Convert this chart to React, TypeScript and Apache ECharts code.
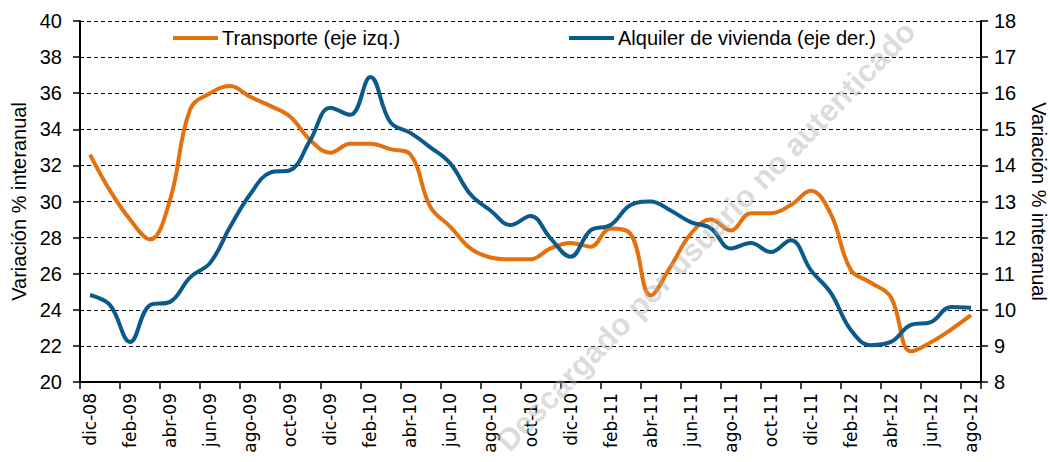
import React, { useEffect, useRef } from "react";
import * as echarts from "echarts";

const months: string[] = [
  "dic-08", "ene-09", "feb-09", "mar-09", "abr-09", "may-09", "jun-09", "jul-09", "ago-09", "sep-09", "oct-09", "nov-09",
  "dic-09", "ene-10", "feb-10", "mar-10", "abr-10", "may-10", "jun-10", "jul-10", "ago-10", "sep-10", "oct-10", "nov-10",
  "dic-10", "ene-11", "feb-11", "mar-11", "abr-11", "may-11", "jun-11", "jul-11", "ago-11", "sep-11", "oct-11", "nov-11",
  "dic-11", "ene-12", "feb-12", "mar-12", "abr-12", "may-12", "jun-12", "jul-12", "ago-12",
];

const transporte: number[] = [
  32.6, 30.6, 29.0, 27.9, 30.1, 35.1, 36.0, 36.4, 35.8, 35.3, 34.7, 33.4,
  32.7, 33.2, 33.2, 32.9, 32.6, 29.7, 28.6, 27.4, 26.9, 26.8, 26.8, 27.4,
  27.7, 27.5, 28.5, 28.2, 24.8, 26.4, 28.2, 29.0, 28.4, 29.35, 29.35, 29.8,
  30.6, 29.3, 26.2, 25.5, 24.7, 21.7, 22.2, 22.9, 23.7,
];

const alquiler: number[] = [
  10.41, 10.13, 9.11, 10.13, 10.22, 10.9, 11.3, 12.3, 13.2, 13.8, 13.87, 14.7,
  15.6, 15.4, 16.45, 15.2, 14.9, 14.5, 14.05, 13.2, 12.75, 12.35, 12.6, 11.98,
  11.47, 12.2, 12.35, 12.9, 13.0, 12.75, 12.43, 12.26, 11.7, 11.85, 11.6, 11.93,
  11.1, 10.47, 9.44, 9.02, 9.11, 9.58, 9.66, 10.08, 10.06,
];

const seriesNames: string[] = ["Transporte (eje izq.)", "Alquiler de vivienda (eje der.)"];
const axisTitle = "Variación % interanual";
const watermark = "Descargado por usuario no autenticado";

const FONT = "'Liberation Sans', Arial, sans-serif";
const ORANGE = "#E4700E";
const BLUE = "#0C5A8A";

export default function App() {
  const ref = useRef<HTMLDivElement>(null);
  useEffect(() => {
    if (!ref.current) return;
    const chart = echarts.init(ref.current, undefined, { renderer: "svg" });
    const legendBase = {
      top: 28,
      padding: 0,
      icon: "rect",
      itemWidth: 45,
      itemHeight: 4,
      itemGap: 4,
      textStyle: { fontSize: 20, color: "#000", fontFamily: FONT, padding: [0, 0, 0, -1] },
    };
    chart.setOption({
      animation: false,
      backgroundColor: "#ffffff",
      textStyle: { fontFamily: FONT },
      grid: { left: 80, right: 69, top: 21, bottom: 80, outerBoundsMode: "none", containLabel: false },
      legend: [
        { ...legendBase, data: [seriesNames[0]], left: 173 },
        { ...legendBase, data: [seriesNames[1]], left: 569 },
      ],
      xAxis: {
        type: "category",
        data: months,
        boundaryGap: true,
        axisLine: { lineStyle: { color: "#000", width: 2 } },
        axisTick: { show: true, interval: 1, length: 7, lineStyle: { color: "#000", width: 1.5 } },
        axisLabel: {
          interval: 1,
          rotate: 90,
          margin: 11,
          fontSize: 17,
          color: "#000",
          fontFamily: "'DejaVu Sans', sans-serif",
        },
        splitLine: { show: false },
      },
      yAxis: [
        {
          type: "value",
          min: 20,
          max: 40,
          interval: 2,
          position: "left",
          name: axisTitle,
          nameLocation: "middle",
          nameGap: 50,
          nameTextStyle: { fontSize: 20, color: "#000", fontFamily: FONT },
          axisLine: { show: true, lineStyle: { color: "#000", width: 2 } },
          axisTick: { show: true, length: 7, lineStyle: { color: "#000", width: 1.5 } },
          axisLabel: { fontSize: 20, color: "#000", margin: 18, fontFamily: FONT },
          splitLine: { show: true, lineStyle: { color: "#000", type: [4, 3], width: 1 } },
        },
        {
          type: "value",
          min: 8,
          max: 18,
          interval: 1,
          position: "right",
          name: axisTitle,
          nameLocation: "middle",
          nameGap: 48,
          nameRotate: -90,
          nameTextStyle: { fontSize: 20, color: "#000", fontFamily: FONT },
          axisLine: { show: true, lineStyle: { color: "#000", width: 2 } },
          axisTick: { show: true, length: 7, lineStyle: { color: "#000", width: 1.5 } },
          axisLabel: { fontSize: 20, color: "#000", margin: 13, fontFamily: FONT },
          splitLine: { show: false },
        },
      ],
      series: [
        {
          name: seriesNames[0],
          type: "line",
          data: transporte,
          yAxisIndex: 0,
          smooth: 0.4,
          symbol: "none",
          lineStyle: { color: ORANGE, width: 4 },
          itemStyle: { color: ORANGE },
          z: 3,
        },
        {
          name: seriesNames[1],
          type: "line",
          data: alquiler,
          yAxisIndex: 1,
          smooth: 0.4,
          symbol: "none",
          lineStyle: { color: BLUE, width: 4 },
          itemStyle: { color: BLUE },
          z: 4,
        },
      ],
      graphic: [
        {
          type: "text",
          x: 706,
          y: 236,
          rotation: 0.8,
          z: 100,
          style: {
            text: watermark,
            fontSize: 31,
            fontWeight: "bold",
            fontFamily: FONT,
            fill: "rgba(175,175,175,0.45)",
            align: "center",
            verticalAlign: "middle",
          },
        },
      ],
    });
    return () => chart.dispose();
  }, []);
  return <div ref={ref} style={{ position: "fixed", left: 0, top: 0, width: 1050, height: 462 }} />;
}
